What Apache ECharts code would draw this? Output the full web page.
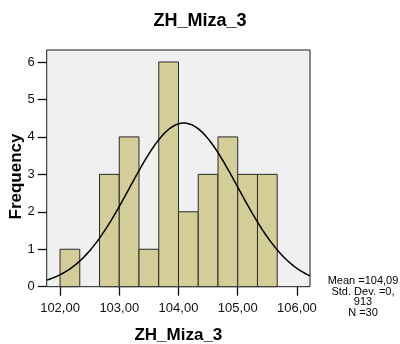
<!DOCTYPE html>
<html>
<head>
<meta charset="utf-8">
<style>
  html, body { margin: 0; padding: 0; background: #ffffff; }
  #chart { width: 400px; height: 344px; }
</style>
<script src="https://cdn.jsdelivr.net/npm/echarts@6/dist/echarts.min.js"></script>
</head>
<body>
<div id="chart"></div>
<script>
// Histogram of ZH_Miza_3: bins of width 1/3 starting at 102,00
const binStart = 102;
const binWidth = 1 / 3;
const counts = [1, 0, 3, 4, 1, 6, 2, 3, 4, 3, 3];

// Summary statistics shown beside the chart
const statMean = 104.09;
const statSd = 0.913;
const statN = 30;

const xTicks = [102, 103, 104, 105, 106];
const yTicks = [0, 1, 2, 3, 4, 5, 6];
const statLines = ['Mean =104,09', 'Std. Dev. =0,', '913', 'N =30'];

const xMin = 101.775, xMax = 106.22;
const yMin = 0, yMax = 6.32;

const FONT = '"Liberation Sans", Arial, sans-serif';

// bars as [low edge, high edge, count]
const barData = counts.map((c, i) => [binStart + i * binWidth, binStart + (i + 1) * binWidth, c]);

// normal curve fitted from the stated mean / std. dev., scaled to counts per bin
const curveData = [];
const steps = 200;
for (let k = 0; k <= steps; k++) {
  const x = xMin + (xMax - xMin) * k / steps;
  const z = (x - statMean) / statSd;
  const y = statN * binWidth * Math.exp(-0.5 * z * z) / (statSd * Math.sqrt(2 * Math.PI));
  curveData.push([x, y]);
}

const fmt = v => v.toFixed(2).replace('.', ',');

const chart = echarts.init(document.getElementById('chart'), null, { renderer: 'canvas' });

chart.setOption({
  animation: false,
  backgroundColor: '#ffffff',
  grid: {
    left: 46.7, right: 90, top: 50, bottom: 57.3,
    outerBoundsMode: 'none', containLabel: false,
    show: true, backgroundColor: '#f0f0f0', borderColor: '#1a1a1a', borderWidth: 1
  },
  xAxis: {
    type: 'value', min: xMin, max: xMax,
    axisLine: { show: false },
    splitLine: { show: false },
    axisTick: { show: true, customValues: xTicks, length: 9, lineStyle: { color: '#111', width: 1.3 } },
    axisLabel: {
      customValues: xTicks, formatter: fmt, margin: 15,
      color: '#111', fontSize: 13, fontFamily: FONT
    },
    name: 'ZH_Miza_3', nameLocation: 'middle', nameGap: 40,
    nameTextStyle: { fontSize: 17, fontWeight: 'bold', color: '#000', fontFamily: FONT }
  },
  yAxis: {
    type: 'value', min: yMin, max: yMax,
    axisLine: { show: false },
    splitLine: { show: false },
    axisTick: { show: true, customValues: yTicks, length: 9, lineStyle: { color: '#111', width: 1.3 } },
    axisLabel: {
      customValues: yTicks, margin: 12,
      color: '#111', fontSize: 13, fontFamily: FONT
    }
  },
  graphic: [
    {
      type: 'text', x: 200, y: 21,
      style: {
        text: 'ZH_Miza_3', font: 'bold 18px ' + FONT, fill: '#000',
        textAlign: 'center', textVerticalAlign: 'middle'
      }
    },
    {
      type: 'text', x: 16, y: 176.5, rotation: Math.PI / 2,
      style: {
        text: 'Frequency', font: 'bold 17px ' + FONT, fill: '#000',
        textAlign: 'center', textVerticalAlign: 'middle'
      }
    },
    {
      type: 'text', x: 363, y: 276,
      style: {
        text: statLines.join('\n'), font: '11px ' + FONT, fill: '#000',
        lineHeight: 10.5, textAlign: 'center', textVerticalAlign: 'top'
      }
    }
  ],
  series: [
    {
      type: 'custom',
      data: barData,
      encode: { x: [0, 1], y: 2 },
      renderItem: function (params, api) {
        if (api.value(2) === 0) return null;
        const p0 = api.coord([api.value(0), 0]);
        const p1 = api.coord([api.value(1), api.value(2)]);
        return {
          type: 'rect',
          shape: { x: p0[0], y: p1[1], width: p1[0] - p0[0], height: p0[1] - p1[1] },
          style: { fill: '#d3ce98', stroke: '#2a2a2a', lineWidth: 1 }
        };
      },
      z: 2
    },
    {
      type: 'line', data: curveData, showSymbol: false, smooth: false,
      lineStyle: { color: '#000', width: 1.5 }, z: 3
    }
  ]
});
</script>
</body>
</html>
